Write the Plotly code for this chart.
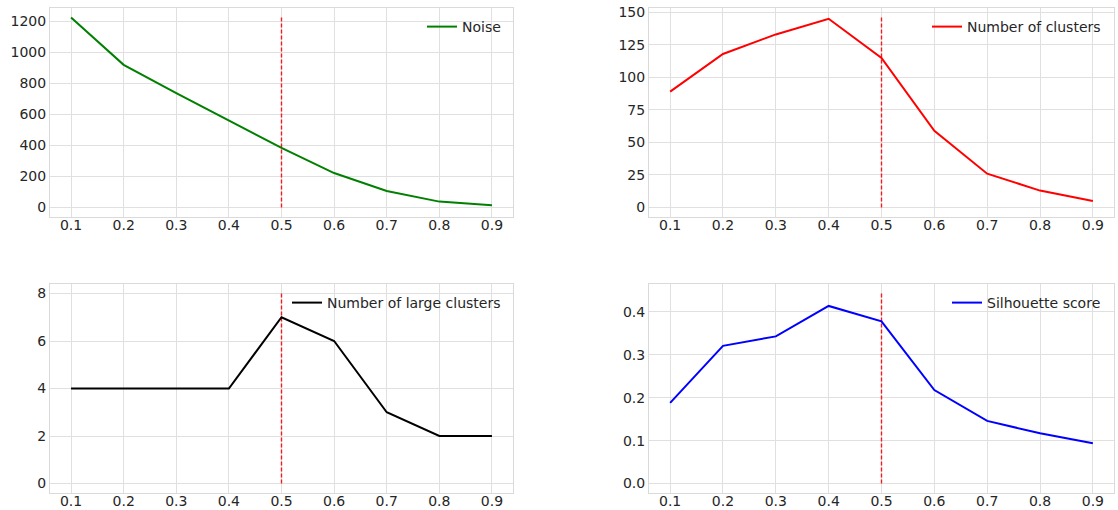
import plotly.graph_objects as go

eps = [0.1, 0.2, 0.3, 0.4, 0.5, 0.6, 0.7, 0.8, 0.9]
noise = [1225, 920, 738, 562, 384, 222, 106, 38, 14]
n_clusters = [89, 118, 133, 145, 115, 59, 26, 13, 5]
n_large = [4, 4, 4, 4, 7, 6, 3, 2, 2]
silhouette = [0.188, 0.321, 0.343, 0.414, 0.378, 0.218, 0.146, 0.117, 0.094]

names = ["Noise", "Number of clusters", "Number of large clusters", "Silhouette score"]
series = [noise, n_clusters, n_large, silhouette]
colors = ["green", "red", "black", "blue"]
vline_x = 0.5
vline_tops = [1225, 146, 8, 0.443]
y_dticks = [200, 25, 2, 0.1]
y_formats = ["", "", "", ".1f"]

W, H = 1118, 510
# plot-area pixel boxes (left, right, top, bottom)
boxes = [(50, 513, 8, 217), (649, 1114, 8, 217), (50, 513, 284, 493), (649, 1114, 284, 493)]
legend_pos = [(506, 11), (1106, 11), (506, 287), (1106, 287)]

fig = go.Figure()
font = dict(family="DejaVu Sans", size=14, color="#262626")
layout = dict(width=W, height=H, margin=dict(l=0, r=0, t=0, b=0),
              paper_bgcolor="white", plot_bgcolor="white", showlegend=True, font=font)

for i in range(4):
    n = "" if i == 0 else str(i + 1)
    xa, ya = "x" + n, "y" + n
    lg = "legend" + n
    fig.add_trace(go.Scatter(x=[vline_x, vline_x], y=[0, vline_tops[i]], mode="lines",
                             line=dict(color="rgb(240,30,30)", width=1.4, dash="4px,2px"),
                             showlegend=False, hoverinfo="skip", xaxis=xa, yaxis=ya))
    fig.add_trace(go.Scatter(x=eps, y=series[i], mode="lines", name=names[i],
                             line=dict(color=colors[i], width=2), xaxis=xa, yaxis=ya,
                             legend=lg))
    l, r, t, b = boxes[i]
    M = max(max(series[i]), vline_tops[i])
    layout["xaxis" + n] = dict(domain=[l / W, r / W], anchor=ya, range=[0.06, 0.94],
                               tickmode="array", tickvals=eps, ticktext=[f"{v:.1f}" for v in eps],
                               showgrid=True, gridcolor="#e0e0e0", gridwidth=1,
                               showline=True, linecolor="#dadada", linewidth=1, mirror=True,
                               zeroline=False, ticks="", automargin=False, tickfont=font,
                               ticklabelstandoff=-5)
    layout["yaxis" + n] = dict(domain=[1 - b / H, 1 - t / H], anchor=xa,
                               range=[-0.05 * M, 1.05 * M], dtick=y_dticks[i], tick0=0,
                               tickformat=y_formats[i],
                               showgrid=True, gridcolor="#e0e0e0", gridwidth=1,
                               showline=True, linecolor="#dadada", linewidth=1, mirror=True,
                               zeroline=False, ticks="", automargin=False, tickfont=font)
    lx, ly = legend_pos[i]
    layout[lg] = dict(x=lx / W, y=1 - ly / H, xanchor="right", yanchor="top",
                      bgcolor="rgba(0,0,0,0)", borderwidth=0, font=font)

fig.update_layout(**layout)
fig.write_html("out.html", config={"displayModeBar": False},
               post_script="document.body.style.margin='0';document.body.style.padding='0';")
